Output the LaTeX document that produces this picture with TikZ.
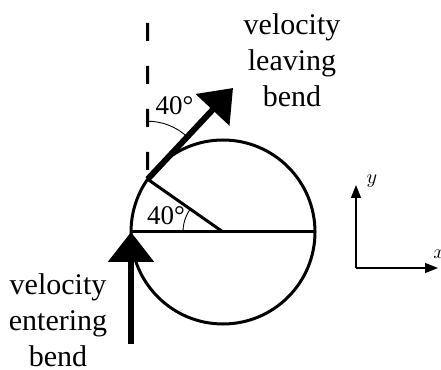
\documentclass[tikz,border=0pt]{standalone}
\usepackage{fontspec}
\setmainfont{Liberation Serif}
\usetikzlibrary{arrows.meta,calc}
\begin{document}
\begin{tikzpicture}[x=1pt, y=1pt,
  bigarrow/.style={line width=6pt, -{Triangle[length=30pt, width=45pt]}},
  axisarrow/.style={line width=1.4pt, -{Triangle[length=13pt, width=10pt]}},
  thick line/.style={line width=3pt},
  anglearc/.style={line width=0.9pt},
  words/.style={align=center, inner sep=0pt, font=\fontsize{30}{36}\selectfont},
  anglelabel/.style={anchor=base, inner sep=0pt, font=\fontsize{27}{30}\selectfont},
  axislabel/.style={anchor=base, inner sep=0pt, scale=2, transform shape}]
\useasboundingbox (0,0) rectangle (441,369);
% the bend
\coordinate (o) at (223,137);
\coordinate (l) at (131,137);
\coordinate (r) at (315,137);
\coordinate (p) at ($(o)+(145:92)$);
\coordinate (top) at (147.6,346);
\coordinate (t) at (233,281);
\coordinate (s) at (131,25);
\draw[thick line] (o) circle (92);
\draw[thick line] (l) -- (r);
\draw[thick line] (p) -- (o);
\draw[thick line, dash pattern=on 18pt off 25pt] (top) -- (p);
\draw[anglearc] ([shift={(o)}]145:40) arc (145:180:40);
\draw[anglearc] ([shift={(p)}]47:58) arc (47:90:58);
\node[anglelabel] (a1) at (174.5,254) {40°};
\node[anglelabel] (a2) at (166,144) {40°};
\draw[bigarrow] (p) -- (t);
\draw[bigarrow] (s) -- (l);
\node[words] (leave) at (292,309) {velocity\\leaving\\bend};
\node[words] (enter) at (58,49) {velocity\\entering\\bend};
% axes
\coordinate (ax) at (356,101);
\coordinate (ay) at (356,184);
\coordinate (axx) at (438,101);
\draw[axisarrow] (ax) -- (ay);
\draw[axisarrow] (ax) -- (axx);
\node[axislabel] (ylab) at (372,185) {$y$};
\node[axislabel] (xlab) at (439,110) {$x$};
\end{tikzpicture}
\end{document}
